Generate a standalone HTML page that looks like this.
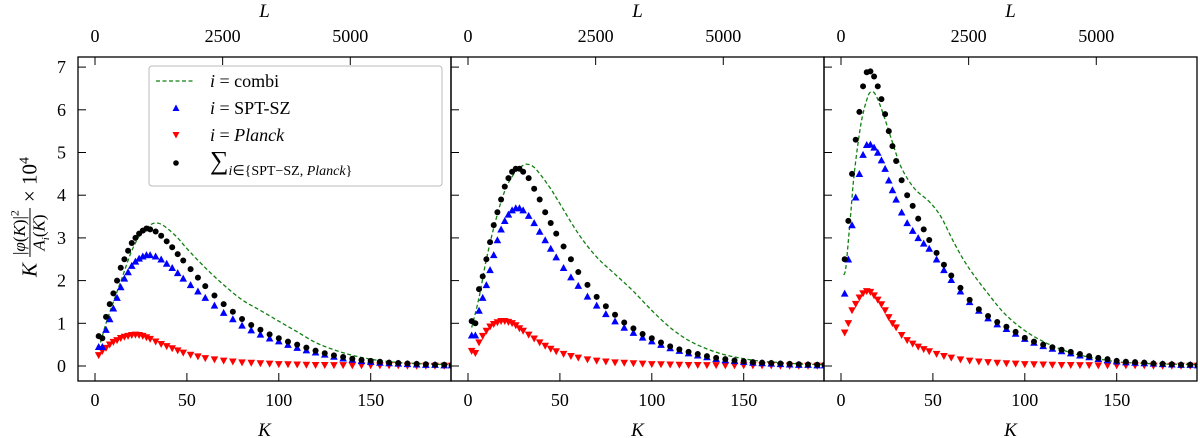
<!DOCTYPE html>
<html><head><meta charset="utf-8"><style>
body{margin:0;background:#fff;width:1200px;height:438px;overflow:hidden;font-family:"Liberation Serif",serif}
#ylab{position:absolute;left:30px;top:217px;transform:translate(-50%,-50%) rotate(-90deg);white-space:nowrap;font-size:21px;display:flex;align-items:center;gap:6px}
.fr{display:inline-flex;flex-direction:column;align-items:center;font-size:17px;line-height:18px}
.fr .n{border-bottom:1px solid #000;padding:0 2px}
</style></head><body>
<svg id="chart" width="1200" height="438" xmlns="http://www.w3.org/2000/svg" style="position:absolute;left:0;top:0"></svg>
<div id="ylab"><i>K</i><span class="fr"><span class="n">|<i>φ</i>(<i>K</i>)|<sup style="font-size:12px">2</sup></span><span><i>A<sub style="font-size:11px">i</sub></i>(<i>K</i>)</span></span><span>× 10<sup style="font-size:14px">4</sup></span></div>
<script>
const kGrid=[2,4,6,8,10,12,14,16,18,20,22,24,26,28,30,33,36,39,42,45,48,52,56,60,65,70,75,80,85,90,95,100,105,110,115,120,125,130,135,140,145,150,155,160,165,170,175,180,185,190,194];
const p1Blue=[.45,.45,.85,1.1,1.35,1.6,1.85,2.05,2.2,2.35,2.45,2.52,2.57,2.6,2.6,2.57,2.5,2.4,2.3,2.18,2.05,1.9,1.75,1.6,1.42,1.25,1.1,.95,.84,.74,.65,.58,.5,.43,.37,.32,.27,.22,.18,.15,.12,.1,.08,.07,.06,.05,.04,.03,.03,.02,.02];
const p1Black=[.7,.65,1.15,1.45,1.7,2.0,2.3,2.5,2.7,2.88,3.0,3.1,3.17,3.22,3.2,3.15,3.05,2.92,2.78,2.62,2.47,2.27,2.07,1.87,1.65,1.45,1.27,1.1,.96,.85,.74,.65,.57,.5,.43,.36,.3,.25,.21,.17,.14,.12,.1,.08,.07,.06,.05,.04,.03,.03,.02];
const p1Red=[.25,.35,.42,.5,.56,.6,.65,.68,.7,.72,.73,.72,.7,.67,.63,.57,.51,.46,.41,.36,.31,.26,.22,.18,.15,.12,.1,.08,.07,.06,.05,.04,.035,.03,.025,.02,.02,.015,.015,.01,.01,.01,.01,.01,.01,0,0,0,0,0,0];
const p1LineK=[3,6,10,15,20,25,30,33,36,40,45,50,60,70,80,90,100,110,120,130,140,150,160,170,180,194];
const p1Green=[.55,1.0,1.5,2.1,2.7,3.1,3.3,3.35,3.32,3.2,3.0,2.75,2.3,1.9,1.55,1.3,1.05,.8,.55,.38,.25,.16,.1,.07,.05,.03];
const p2Black=[1.05,1.0,1.8,2.1,2.5,2.9,3.3,3.6,3.9,4.2,4.4,4.55,4.62,4.62,4.55,4.4,4.15,3.9,3.6,3.35,3.1,2.8,2.5,2.2,1.9,1.62,1.4,1.2,1.02,.88,.75,.65,.55,.46,.39,.33,.28,.23,.19,.16,.13,.11,.09,.08,.07,.06,.05,.04,.035,.03,.03];
const p2Blue=[.72,.72,1.3,1.6,1.9,2.25,2.6,2.95,3.2,3.4,3.55,3.65,3.7,3.7,3.65,3.52,3.35,3.15,2.95,2.75,2.55,2.3,2.08,1.88,1.63,1.42,1.22,1.05,.9,.78,.67,.58,.5,.42,.36,.3,.25,.21,.17,.14,.12,.1,.08,.07,.06,.05,.04,.03,.03,.02,.02];
const p2Red=[.35,.3,.55,.7,.82,.92,.98,1.02,1.05,1.05,1.03,1.0,.95,.88,.82,.73,.64,.55,.47,.4,.34,.28,.23,.19,.15,.12,.1,.08,.07,.06,.05,.04,.035,.03,.025,.02,.02,.015,.015,.01,.01,.01,.01,.01,.01,0,0,0,0,0,0];
const p2LineK=[2,6,10,15,20,25,30,33,36,40,45,50,60,70,80,90,100,110,120,130,140,150,160,170,180,194];
const p2Green=[.9,1.6,2.5,3.4,4.1,4.5,4.7,4.72,4.65,4.45,4.15,3.8,3.1,2.55,2.15,1.75,1.3,.9,.6,.4,.26,.17,.11,.08,.05,.03];
const p3Black=[2.5,3.4,4.5,5.3,5.95,6.55,6.88,6.9,6.78,6.55,6.25,5.9,5.5,5.15,4.8,4.35,4.0,3.75,3.45,3.2,2.95,2.65,2.37,2.12,1.83,1.55,1.33,1.17,1.03,.92,.8,.66,.57,.5,.44,.38,.33,.28,.23,.19,.16,.12,.1,.09,.08,.06,.05,.04,.03,.03,.02];
const p3Blue=[1.7,2.5,3.3,3.95,4.5,4.95,5.18,5.19,5.12,5.0,4.82,4.62,4.35,4.12,3.9,3.6,3.35,3.17,3.0,2.87,2.75,2.5,2.25,2.02,1.75,1.5,1.3,1.12,.98,.87,.76,.64,.55,.47,.41,.35,.3,.25,.21,.17,.14,.11,.09,.08,.07,.06,.05,.04,.03,.03,.02];
const p3Red=[.78,1.0,1.3,1.45,1.6,1.7,1.75,1.73,1.65,1.55,1.44,1.3,1.14,1.0,.9,.72,.6,.52,.45,.39,.34,.28,.23,.19,.15,.12,.1,.085,.07,.06,.05,.04,.035,.03,.025,.02,.02,.015,.015,.01,.01,.01,.01,.01,.01,0,0,0,0,0,0];
const p3LineK=[1.5,2.7,5,7.2,10.9,14.5,16.7,19,22.6,27,32.6,39.9,48,54.3,61.6,69,79.7,90.6,105,123,141,159,194];
const p3Green=[2.13,2.33,3.42,4.5,5.68,6.3,6.42,6.34,5.95,5.37,4.67,4.16,3.85,3.5,2.88,2.33,1.71,1.16,.69,.34,.16,.07,.03];
const xTicks=[0,50,100,150];
const yTicks=[0,1,2,3,4,5,6,7];
const lTicks=[0,2500,5000];

const panels=[
 {black:p1Black,blue:p1Blue,red:p1Red,lk:p1LineK,green:p1Green},
 {black:p2Black,blue:p2Blue,red:p2Red,lk:p2LineK,green:p2Green},
 {black:p3Black,blue:p3Blue,red:p3Red,lk:p3LineK,green:p3Green}];
const NS="http://www.w3.org/2000/svg";
const svg=document.getElementById('chart');
function mk(tag,attrs,parent){const e=document.createElementNS(NS,tag);for(const k in attrs)e.setAttribute(k,attrs[k]);(parent||svg).appendChild(e);return e;}
const PW=373,TOP=57,BOT=381;
function xs(p,k){return 78+p*PW+17+k*1.838;}
function ys(v){return 366-v*42.7;}
function txt(x,y,s,size,parent,anchor,italic){const t=mk('text',{x:x,y:y,'font-size':size,'text-anchor':anchor||'middle','font-family':'Liberation Serif, serif'},parent);if(italic)t.setAttribute('font-style','italic');t.textContent=s;return t;}
function smooth(pts){let d='M'+pts[0][0]+','+pts[0][1];for(let i=0;i<pts.length-1;i++){const p0=pts[Math.max(0,i-1)],p1=pts[i],p2=pts[i+1],p3=pts[Math.min(pts.length-1,i+2)];const c1=[p1[0]+(p2[0]-p0[0])/6,p1[1]+(p2[1]-p0[1])/6],c2=[p2[0]-(p3[0]-p1[0])/6,p2[1]-(p3[1]-p1[1])/6];d+=' C'+c1[0].toFixed(1)+','+c1[1].toFixed(1)+' '+c2[0].toFixed(1)+','+c2[1].toFixed(1)+' '+p2[0].toFixed(1)+','+p2[1].toFixed(1);}return d;}
panels.forEach((P,p)=>{
 const L=78+p*PW;
 const g=mk('g',{});
 
 
 const clipId='clip'+p;
 const cp=mk('clipPath',{id:clipId},g);mk('rect',{x:L,y:TOP,width:PW,height:BOT-TOP},cp);
 const marks=mk('g',{'clip-path':'url(#'+clipId+')'},g);
 const gl=mk('path',{d:smooth(P.lk.map((k,i)=>[xs(p,k),ys(P.green[i])])),fill:'none',stroke:'#108010','stroke-width':1.3,'stroke-dasharray':'4,2.5'},marks);
 
 
 const rg=mk('g',{fill:'#ff0000'},marks);
 
 
 P.red.forEach((v,i)=>{const x=xs(p,kGrid[i]),y=ys(v);mk('polygon',{points:(x-3.8)+','+(y-3.2)+' '+(x+3.8)+','+(y-3.2)+' '+x+','+(y+3.8)},rg);});
 const bg=mk('g',{fill:'#0000ff'},marks);
 
 
 P.blue.forEach((v,i)=>{const x=xs(p,kGrid[i]),y=ys(v);mk('polygon',{points:(x-3.8)+','+(y+3.2)+' '+(x+3.8)+','+(y+3.2)+' '+x+','+(y-3.8)},bg);});
 const kg=mk('g',{fill:'#000'},marks);
 
 
 P.black.forEach((v,i)=>{mk('circle',{cx:xs(p,kGrid[i]),cy:ys(v),r:3},kg);});
 mk('rect',{x:L,y:TOP,width:PW,height:BOT-TOP,fill:'none',stroke:'#000','stroke-width':1.3},g);
 yTicks.forEach(v=>{mk('line',{x1:L,x2:L+8,y1:ys(v),y2:ys(v),stroke:'#000','stroke-width':1},g);
   if(p===0){const t=txt(L-12,ys(v)+6,String(v),18,g,'end');}});
 xTicks.forEach(k=>{mk('line',{x1:xs(p,k),x2:xs(p,k),y1:BOT,y2:BOT-8,stroke:'#000','stroke-width':1},g);
   const t=txt(xs(p,k),406,String(k),18,g);});
 lTicks.forEach(l=>{const x=xs(p,l/36);mk('line',{x1:x,x2:x,y1:TOP,y2:TOP+8,stroke:'#000','stroke-width':1},g);
   const t=txt(x,42,String(l),18,g);});
 const xt=txt(L+PW/2,436,'K',19,g,'middle',true);
 const lt=txt(L+PW/2,17,'L',19,g,'middle',true);
});
const lg=mk('g',{});


mk('rect',{x:149,y:66,width:293,height:120,rx:3,fill:'#fff','fill-opacity':0.85,stroke:'#bbb','stroke-width':1},lg);
mk('line',{x1:156,x2:195,y1:81,y2:81,stroke:'#108010','stroke-width':1.3,'stroke-dasharray':'4,2.5'},lg);
mk('polygon',{points:'172.5,111 179.5,111 176,104.5',fill:'#0000ff'},lg);
mk('polygon',{points:'172.5,132 179.5,132 176,138.5',fill:'#ff0000'},lg);
mk('circle',{cx:176,cy:163,r:2.8,fill:'#000'},lg);
function legText(y,parts){const t=mk('text',{x:210,y:y,'font-size':18,'font-family':'Liberation Serif, serif'},lg);parts.forEach(([s,it,sz,dy])=>{const ts=mk('tspan',{},t);if(it)ts.setAttribute('font-style','italic');if(sz)ts.setAttribute('font-size',sz);if(dy)ts.setAttribute('dy',dy);ts.textContent=s;});}
legText(87,[['i',1],[' = combi']]);
legText(114,[['i',1],[' = SPT-SZ']]);
legText(141,[['i',1],[' = '],['Planck',1]]);
legText(169,[['∑',0,26],['i',1,14,6],['∈{SPT−SZ, ',0,14],['Planck',1,14],['}',0,14]]);
</script>
</body></html>
